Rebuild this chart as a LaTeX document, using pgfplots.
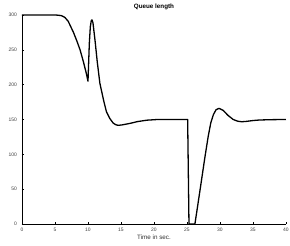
\documentclass[border=0pt]{standalone}
\usepackage{fontspec}
\setmainfont{Liberation Sans}
\usepackage{pgfplots}
\pgfplotsset{compat=1.18}
\begin{document}
\begin{tikzpicture}[x=1bp,y=1bp]
\useasboundingbox (-22,-22) rectangle (268,224);
\begin{axis}[
  at={(0,0)}, anchor=south west,
  scale only axis,
  width=264bp, height=209bp,
  xmin=0, xmax=40, ymin=0, ymax=300,
  axis x line*=bottom, axis y line*=left,
  axis line style={line width=0.6pt},
  tick align=inside,
  major tick length=2.2bp,
  tick style={line width=0.5pt, black},
  xtick={0,5,...,40}, ytick={0,50,...,300},
  /pgf/number format/assume math mode=true,
  tick label style={font=\fontsize{5}{6}\selectfont, text=black!75},
  xticklabel style={yshift=-0.5bp},
  yticklabel style={xshift=-1.5bp},
  title={Queue length},
  every axis title/.style={font=\fontsize{6.3}{7}\selectfont\bfseries, at={(0.5,1)}, anchor=south, yshift=1.5bp},
  xlabel={Time in sec.},
  xlabel style={font=\fontsize{6.3}{7}\selectfont, text=black!80, yshift=3bp},
  clip=false,
]
\addplot[black, line width=1.3pt, line join=round] coordinates {
(0,300) (5,300) (5.5,299.7) (6,299) (6.5,296.5) (7,291) (7.3,285) (7.8,275)
(8.3,263) (8.8,250) (9.3,233) (9.7,218) (10.0,205)
(10.2,259) (10.35,283) (10.5,292) (10.6,293) (10.75,289) (11.06,264) (11.4,233)
(11.8,202) (12.4,176) (12.8,161) (13.3,151.6) (13.8,145) (14.2,142.5) (14.6,141.6)
(15.2,142.3) (16.4,144.5) (17.5,147) (18.9,149) (20.5,150) (25.1,150)
(25.3,0) (26.2,0) (26.6,25) (27.2,63) (27.7,95) (28.2,125) (28.6,145) (29.0,157)
(29.4,164) (29.85,166) (30.5,163) (31.2,156) (32,150) (32.7,147.5) (33.3,146.8)
(34,147.3) (35,148.5) (36,149.3) (38,149.8) (40,150)
};
\end{axis}
\end{tikzpicture}
\end{document}
